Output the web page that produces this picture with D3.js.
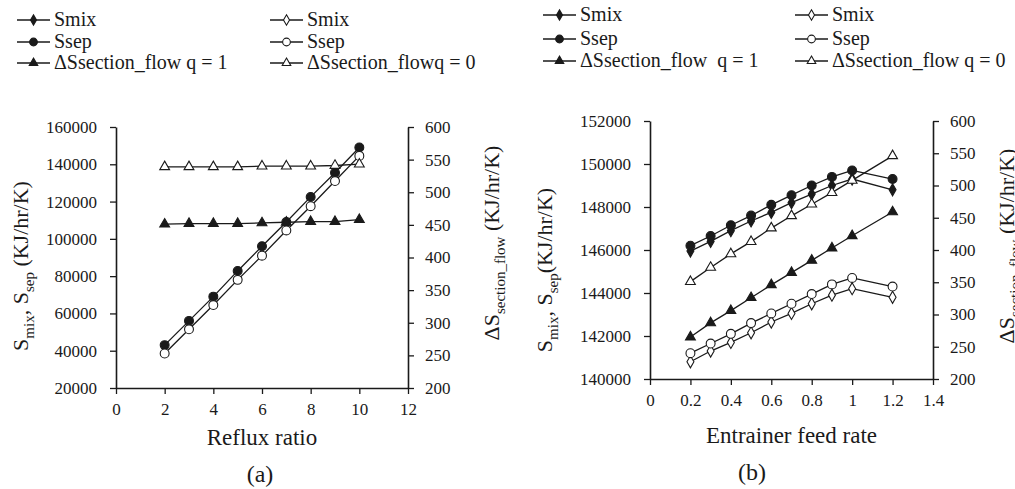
<!DOCTYPE html>
<html>
<head>
<meta charset="utf-8">
<script src="https://cdn.jsdelivr.net/npm/d3@7"></script>
<style>
  html, body { margin: 0; padding: 0; background: #ffffff; }
  svg { display: block; }
  svg text { font-family: "Liberation Serif", "Tinos", "Times New Roman", "Nimbus Roman", "DejaVu Serif", serif !important; fill: #1a1a1a; }
</style>
</head>
<body>
<svg id="chart" width="1015" height="489"></svg>
<script>
// ---------- Panel (a): Reflux ratio ----------
const refluxRatio = [2, 3, 4, 5, 6, 7, 8, 9, 10];
const aSsepQ1 = [43000, 56000, 69000, 82800, 96000, 109000, 122500, 135500, 149000];
const aSsepQ0 = [38500, 51500, 64500, 78000, 91000, 104500, 117500, 131000, 144500];
const aDSQ1 = [451, 452, 452, 452, 453, 454, 455, 455, 458];
const aDSQ0 = [539, 539, 539, 539, 540, 540, 540, 541, 543];
const aXTicks = [0, 2, 4, 6, 8, 10, 12];
const aYTicks = [20000, 40000, 60000, 80000, 100000, 120000, 140000, 160000];

// ---------- Panel (b): Entrainer feed rate ----------
const feedRate = [0.2, 0.3, 0.4, 0.5, 0.6, 0.7, 0.8, 0.9, 1.0, 1.2];
const bSmixQ1 = [145950, 146400, 146900, 147350, 147750, 148200, 148600, 149000, 149300, 148800];
const bSsepQ1 = [146200, 146650, 147150, 147600, 148100, 148550, 149000, 149400, 149700, 149300];
const bSmixQ0 = [140800, 141300, 141700, 142150, 142650, 143050, 143500, 143900, 144200, 143800];
const bSsepQ0 = [141200, 141650, 142100, 142600, 143050, 143500, 143950, 144400, 144700, 144300];
const bDSQ1 = [265, 287, 306, 326, 346, 365, 384, 403, 422, 459];
const bDSQ0 = [351, 373, 394, 413, 434, 453, 471, 489, 508, 546];
const bXTicks = [0, 0.2, 0.4, 0.6, 0.8, 1, 1.2, 1.4];
const bYTicks = [140000, 142000, 144000, 146000, 148000, 150000, 152000];

const rightTicks = [200, 250, 300, 350, 400, 450, 500, 550, 600];

const legendA = ["Smix", "Ssep", "\u0394Ssection_flow q = 1", "Smix", "Ssep", "\u0394Ssection_flowq = 0"];
const legendB = ["Smix", "Ssep", "\u0394Ssection_flow  q = 1", "Smix", "Ssep", "\u0394Ssection_flow q = 0"];

const INK = "#1a1a1a";
const svg = d3.select("#chart");

const markerDefs = {
  diamondFilled:  { type: d3.symbolDiamond, size: 42, fill: INK },
  circleFilled:   { type: d3.symbolCircle, size: 62, fill: INK },
  triangleFilled: { type: d3.symbolTriangle, size: 42, fill: INK },
  diamondOpen:    { type: d3.symbolDiamond, size: 42, fill: "#fff" },
  circleOpen:     { type: d3.symbolCircle, size: 62, fill: "#fff" },
  triangleOpen:   { type: d3.symbolTriangle, size: 42, fill: "#fff" }
};
const legendMarkers = ["diamondFilled", "circleFilled", "triangleFilled", "diamondOpen", "circleOpen", "triangleOpen"];

function drawMarker(g, x, y, key, legendScale) {
  const m = markerDefs[key];
  const s = legendScale ? m.size * legendScale : m.size;
  g.append("path")
    .attr("d", d3.symbol().type(m.type).size(s)())
    .attr("transform", `translate(${x},${y})`)
    .attr("fill", m.fill)
    .attr("stroke", INK)
    .attr("stroke-width", 1.1);
}

function drawPanel(cfg) {
  const g = svg.append("g");
  const x = d3.scaleLinear().domain(cfg.xDomain).range([cfg.left, cfg.right]);
  const yL = d3.scaleLinear().domain(cfg.yDomain).range([cfg.bottom, cfg.top]);
  const yR = d3.scaleLinear().domain([200, 600]).range([cfg.bottom, cfg.top]);

  const xAxis = d3.axisBottom(x).tickValues(cfg.xTicks).tickSize(6).tickSizeOuter(0).tickPadding(9)
    .tickFormat(d => d3.format("~g")(d));
  const yAxisL = d3.axisLeft(yL).tickValues(cfg.yTicks).tickSize(6).tickSizeOuter(0).tickPadding(13)
    .tickFormat(d => String(d));
  const yAxisR = d3.axisRight(yR).tickValues(rightTicks).tickSize(6).tickSizeOuter(0).tickPadding(11)
    .tickFormat(d => String(d));

  const styleAxis = sel => {
    sel.attr("font-family", null);
    sel.select(".domain").attr("stroke", INK).attr("stroke-width", 1.6);
    sel.selectAll(".tick line").attr("stroke", INK).attr("stroke-width", 1.3);
    sel.selectAll(".tick text").attr("font-size", 17).attr("fill", INK);
  };
  g.append("g").attr("transform", `translate(0,${cfg.bottom})`).call(xAxis).call(styleAxis);
  g.append("g").attr("transform", `translate(${cfg.left},0)`).call(yAxisL).call(styleAxis);
  g.append("g").attr("transform", `translate(${cfg.right},0)`).call(yAxisR).call(styleAxis);

  cfg.series.forEach(s => {
    const ys = s.axis === "R" ? yR : yL;
    const line = d3.line().x((d, i) => x(cfg.xs[i])).y(d => ys(d));
    g.append("path").datum(s.values).attr("d", line)
      .attr("fill", "none").attr("stroke", INK).attr("stroke-width", 1.3);
  });
  cfg.series.forEach(s => {
    const ys = s.axis === "R" ? yR : yL;
    s.values.forEach((v, i) => drawMarker(g, x(cfg.xs[i]), ys(v), s.marker));
  });

  g.append("text").attr("x", (cfg.left + cfg.right) / 2).attr("y", cfg.xTitleY)
    .attr("text-anchor", "middle").attr("font-size", 23).text(cfg.xTitle);
  g.append("text").attr("x", cfg.capX).attr("y", cfg.capY)
    .attr("text-anchor", "middle").attr("font-size", 24).text(cfg.caption);

  const lt = g.append("text").attr("text-anchor", "middle").attr("font-size", 22)
    .attr("transform", `translate(${cfg.yLTitle[0]},${cfg.yLTitle[1]}) rotate(-90)`);
  lt.append("tspan").text("S");
  lt.append("tspan").attr("font-size", 15).attr("dy", 6).text("mix");
  lt.append("tspan").attr("dy", -6).text(", S");
  lt.append("tspan").attr("font-size", 15).attr("dy", 6).text("sep");
  lt.append("tspan").attr("dy", -6).text(cfg.sepGap + "(KJ/hr/K)");

  const rt = g.append("text").attr("text-anchor", "middle").attr("font-size", 22)
    .attr("transform", `translate(${cfg.yRTitle[0]},${cfg.yRTitle[1]}) rotate(-90)`);
  rt.append("tspan").text("\u0394S");
  rt.append("tspan").attr("font-size", 15).attr("dy", 6).text("section_flow");
  rt.append("tspan").attr("dy", -6).text(" (KJ/hr/K)");

  const lg = g.append("g");
  cfg.legend.forEach((label, i) => {
    const col = Math.floor(i / 3), row = i % 3;
    const lx = cfg.legendCols[col], ly = cfg.legendRows[row];
    lg.append("line").attr("x1", lx).attr("x2", lx + 33).attr("y1", ly).attr("y2", ly)
      .attr("stroke", INK).attr("stroke-width", 1.3);
    drawMarker(lg, lx + 16.5, ly, legendMarkers[i], 0.75);
    lg.append("text").attr("x", lx + 37).attr("y", ly + 6).attr("font-size", 20)
      .style("white-space", "pre").attr("xml:space", "preserve").text(label);
  });
}

drawPanel({
  xs: refluxRatio, xDomain: [0, 12], yDomain: [20000, 160000],
  left: 116, right: 408, top: 127, bottom: 388,
  xTicks: aXTicks, yTicks: aYTicks,
  series: [
    { values: aSsepQ1, axis: "L", marker: "circleFilled" },
    { values: aSsepQ0, axis: "L", marker: "circleOpen" },
    { values: aDSQ1, axis: "R", marker: "triangleFilled" },
    { values: aDSQ0, axis: "R", marker: "triangleOpen" }
  ],
  xTitle: "Reflux ratio", xTitleY: 445, caption: "(a)", capX: 260, capY: 482,
  yLTitle: [28, 266], yRTitle: [499, 243], sepGap: " ",
  legend: legendA, legendCols: [17, 270], legendRows: [20, 42, 63]
});

drawPanel({
  xs: feedRate, xDomain: [0, 1.4], yDomain: [140000, 152000],
  left: 650, right: 933, top: 121, bottom: 379,
  xTicks: bXTicks, yTicks: bYTicks,
  series: [
    { values: bSmixQ1, axis: "L", marker: "diamondFilled" },
    { values: bSsepQ1, axis: "L", marker: "circleFilled" },
    { values: bSmixQ0, axis: "L", marker: "diamondOpen" },
    { values: bSsepQ0, axis: "L", marker: "circleOpen" },
    { values: bDSQ1, axis: "R", marker: "triangleFilled" },
    { values: bDSQ0, axis: "R", marker: "triangleOpen" }
  ],
  xTitle: "Entrainer feed rate", xTitleY: 443, caption: "(b)", capX: 752, capY: 480,
  yLTitle: [552, 270], yRTitle: [1014, 246], sepGap: "",
  legend: legendB, legendCols: [543, 795], legendRows: [15, 39, 61]
});
</script>
</body>
</html>
